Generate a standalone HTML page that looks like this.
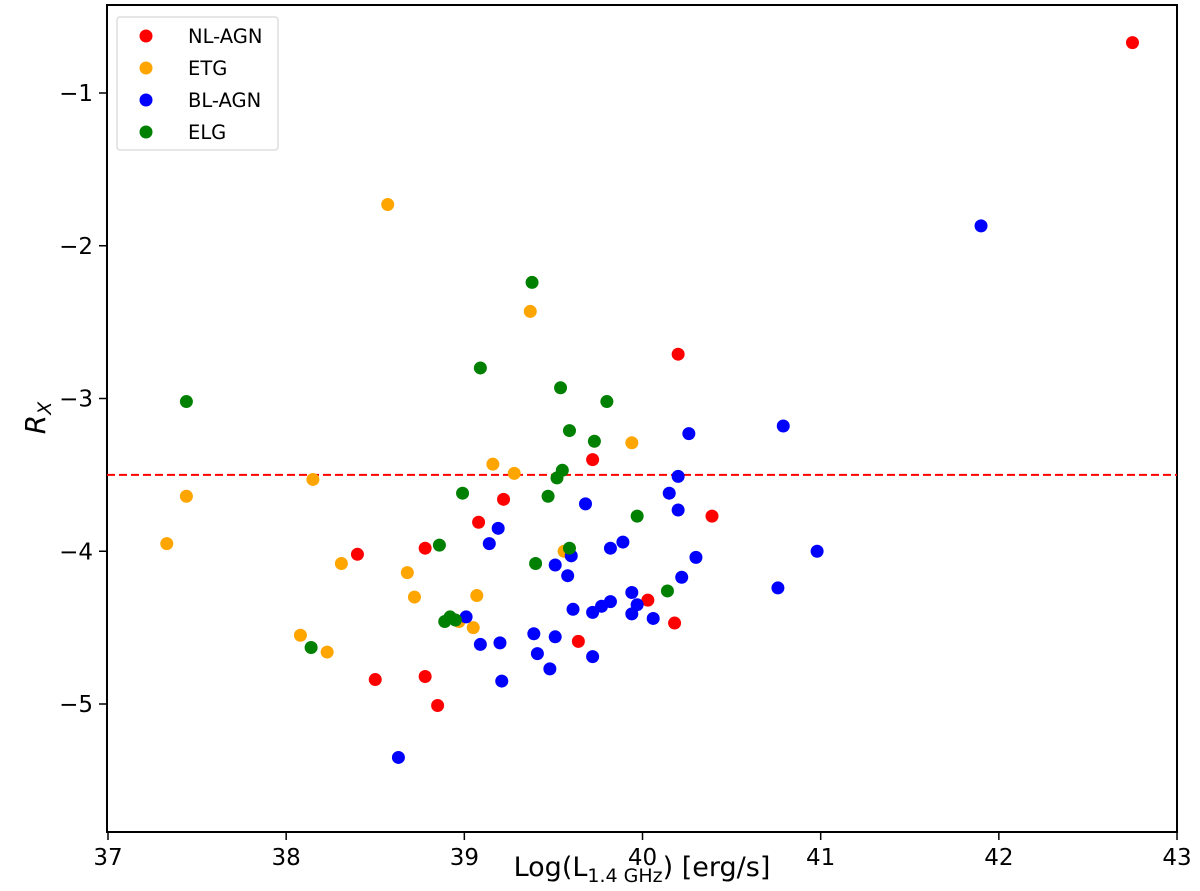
<!DOCTYPE html>
<html><head><meta charset="utf-8"><style>
body{margin:0;background:#fff;}
svg text{font-family:"DejaVu Sans","Liberation Sans",sans-serif;fill:#000;}
</style></head><body>
<svg id="chart" width="1200" height="886" xmlns="http://www.w3.org/2000/svg"></svg>
<script>
const nlAgnX=[42.75,40.20,39.72,39.22,40.39,39.08,38.78,38.40,40.03,40.18,39.64,38.50,38.78,38.85];
const nlAgnY=[-0.67,-2.71,-3.40,-3.66,-3.77,-3.81,-3.98,-4.02,-4.32,-4.47,-4.59,-4.84,-4.82,-5.01];
const etgX=[38.57,39.37,39.94,39.16,39.28,38.15,37.44,37.33,38.31,38.68,38.72,39.07,39.05,38.97,38.08,38.23,39.56];
const etgY=[-1.73,-2.43,-3.29,-3.43,-3.49,-3.53,-3.64,-3.95,-4.08,-4.14,-4.30,-4.29,-4.50,-4.46,-4.55,-4.66,-4.00];
const blAgnX=[41.90,40.79,40.26,40.20,40.15,39.68,40.20,39.19,39.14,39.89,39.82,40.98,39.60,39.51,40.30,39.58,40.22,40.76,39.94,39.61,39.82,39.77,39.97,39.72,39.94,40.06,39.01,39.39,39.51,39.09,39.20,39.41,39.72,39.48,39.21,38.63];
const blAgnY=[-1.87,-3.18,-3.23,-3.51,-3.62,-3.69,-3.73,-3.85,-3.95,-3.94,-3.98,-4.00,-4.03,-4.09,-4.04,-4.16,-4.17,-4.24,-4.27,-4.38,-4.33,-4.36,-4.35,-4.40,-4.41,-4.44,-4.43,-4.54,-4.56,-4.61,-4.60,-4.67,-4.69,-4.77,-4.85,-5.35];
const elgX=[39.38,39.09,39.54,37.44,39.80,39.59,39.73,39.55,39.52,38.99,39.47,39.97,38.86,39.59,39.40,40.14,38.92,38.95,38.89,38.14];
const elgY=[-2.24,-2.80,-2.93,-3.02,-3.02,-3.21,-3.28,-3.47,-3.52,-3.62,-3.64,-3.77,-3.96,-3.98,-4.08,-4.26,-4.43,-4.45,-4.46,-4.63];
const xTicks=[37,38,39,40,41,42,43];
const yTicks=[-1,-2,-3,-4,-5];
const threshold=[-3.5];

const NS="http://www.w3.org/2000/svg";
const svg=document.getElementById('chart');
const L=107,R=1177,T=5,B=832;
const sx=v=>108+(v-37)*178.17;
const sy=v=>93+(-1-v)*152.75;
function mk(tag,attrs,parent){const e=document.createElementNS(NS,tag);for(const k in attrs)e.setAttribute(k,attrs[k]);(parent||svg).appendChild(e);return e;}

const frame=mk('rect',{x:L,y:T,width:R-L,height:B-T,fill:'none',stroke:'#000','stroke-width':2});



xTicks.forEach(v=>{
  const t=mk('line',{x1:sx(v),x2:sx(v),y1:B,y2:B+8,stroke:'#000','stroke-width':1.5});
  
  
  const l=mk('text',{x:sx(v),y:B+33,'text-anchor':'middle','font-size':23});
  l.textContent=v;
  
  
});
yTicks.forEach(v=>{
  const t=mk('line',{x1:L-8,x2:L,y1:sy(v),y2:sy(v),stroke:'#000','stroke-width':1.5});
  
  
  const l=mk('text',{x:L-14,y:sy(v)+8,'text-anchor':'end','font-size':23});
  l.textContent='\u2212'+Math.abs(v);
  
  
});

const xt=mk('text',{x:642,y:876,'text-anchor':'middle','font-size':27});
xt.innerHTML='Log(L<tspan font-size="19" dy="6">1.4 GHz</tspan><tspan dy="-6">) [erg/s]</tspan>';


const yt=mk('text',{x:0,y:0,'text-anchor':'middle','font-size':28,'font-style':'italic',transform:'translate(45,418) rotate(-90)'});
yt.innerHTML='R<tspan font-size="19" dy="6">X</tspan>';



threshold.forEach(v=>{
  const d=mk('line',{x1:L,x2:R,y1:sy(v),y2:sy(v),stroke:'#f00','stroke-width':2,'stroke-dasharray':'8,4'});
  
  
});

const series=[['nl-agn',nlAgnX,nlAgnY,'#ff0000'],['etg',etgX,etgY,'#ffa500'],['bl-agn',blAgnX,blAgnY,'#0000ff'],['elg',elgX,elgY,'#008000']];
series.forEach(([n,xs,ys,c])=>{
  xs.forEach((x,i)=>{
    const p=mk('circle',{cx:sx(x),cy:sy(ys[i]),r:6.5,fill:c});
    
    
  });
});

const lg=mk('g',{});


mk('rect',{x:117,y:17,width:161,height:133,rx:3,fill:'#fff',stroke:'#ddd','stroke-width':1.5},lg);
const labels=['NL-AGN','ETG','BL-AGN','ELG'];
series.forEach(([n,xs,ys,c],i)=>{
  const yy=36+i*32;
  const m=mk('circle',{cx:146,cy:yy,r:6.5,fill:c},lg);
  
  
  const t=mk('text',{x:188,y:yy+7,'font-size':19.5},lg);
  t.textContent=labels[i];
  
  
});
</script>
</body></html>
